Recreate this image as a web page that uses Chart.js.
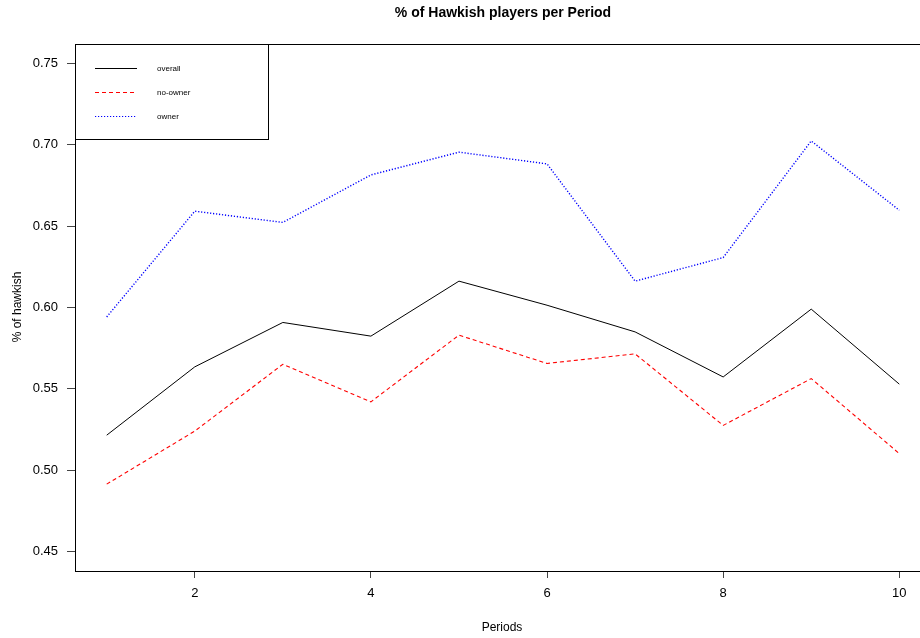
<!DOCTYPE html>
<html>
<head>
<meta charset="utf-8">
<title>% of Hawkish players per Period</title>
<script src="https://cdn.jsdelivr.net/npm/chart.js@4.4.1/dist/chart.umd.min.js"></script>
<style>
  html, body { margin: 0; padding: 0; background: #fff; overflow: hidden; }
  #wrap { width: 932px; height: 638px; }
</style>
</head>
<body>
<div id="wrap"><canvas id="chart" width="932" height="638"></canvas></div>
<script>
// Share of hawkish choices per period, by player group
const periods = [1, 2, 3, 4, 5, 6, 7, 8, 9, 10];
const overall = [0.5215, 0.5635, 0.5908, 0.5824, 0.6162, 0.6014, 0.5850, 0.5573, 0.5990, 0.5529];
const noOwner = [0.4914, 0.5240, 0.5651, 0.5420, 0.5830, 0.5656, 0.5715, 0.5275, 0.5563, 0.5102];
const owner   = [0.5942, 0.6592, 0.6523, 0.6815, 0.6955, 0.6883, 0.6162, 0.6307, 0.7024, 0.6598];

const xTicks = [2, 4, 6, 8, 10];
const yTicks = [0.45, 0.50, 0.55, 0.60, 0.65, 0.70, 0.75];

const seriesNames = ['overall', 'no-owner', 'owner'];
const FONT = "'Liberation Sans', Arial, Helvetica, sans-serif";

const toPoints = vals => periods.map((p, i) => ({ x: p, y: vals[i] }));

// Frame, titles and boxed legend drawn on top of the plot
const decorations = {
  id: 'decorations',
  afterDraw(chart) {
    const { ctx, chartArea: a } = chart;
    ctx.save();
    ctx.strokeStyle = '#000';
    ctx.lineWidth = 1;
    ctx.setLineDash([]);
    ctx.strokeRect(Math.round(a.left) + 0.5, Math.round(a.top) + 0.5,
                   Math.round(a.right - a.left), Math.round(a.bottom - a.top));

    ctx.fillStyle = '#000';
    ctx.textAlign = 'center';
    ctx.textBaseline = 'middle';
    ctx.font = 'bold 14px ' + FONT;
    ctx.fillText('% of Hawkish players per Period', 503, 13);

    ctx.font = '12px ' + FONT;
    ctx.fillText('Periods', 502, 628);

    ctx.save();
    ctx.translate(18, 307);
    ctx.rotate(-Math.PI / 2);
    ctx.fillText('% of hawkish', 0, 0);
    ctx.restore();

    // legend box in the top-left corner of the plot
    const lx = Math.round(a.left) + 0.5, ly = Math.round(a.top) + 0.5;
    ctx.fillStyle = '#fff';
    ctx.fillRect(lx, ly, 193, 95);
    ctx.strokeStyle = '#000';
    ctx.strokeRect(lx, ly, 193, 95);
    ctx.font = '8px ' + FONT;
    ctx.textAlign = 'left';
    chart.data.datasets.forEach((ds, i) => {
      const y = 68.5 + i * 24;
      ctx.strokeStyle = ds.borderColor;
      ctx.lineWidth = 1;
      ctx.setLineDash(ds.borderDash || []);
      ctx.beginPath();
      ctx.moveTo(95, y);
      ctx.lineTo(137, y);
      ctx.stroke();
      ctx.fillStyle = '#000';
      ctx.fillText(ds.label, 157, y);
    });
    ctx.restore();
  }
};

new Chart(document.getElementById('chart'), {
  type: 'line',
  data: {
    datasets: [
      { label: seriesNames[0], data: toPoints(overall), borderColor: '#000000', borderWidth: 1, borderDash: [] },
      { label: seriesNames[1], data: toPoints(noOwner), borderColor: '#ff0000', borderWidth: 1.1, borderDash: [4, 3] },
      { label: seriesNames[2], data: toPoints(owner), borderColor: '#0000ff', borderWidth: 1.4, borderDash: [1.2, 1.8] }
    ]
  },
  options: {
    responsive: false,
    animation: false,
    layout: { padding: { left: 0, top: 44, right: 1, bottom: 0 } },
    elements: { point: { radius: 0 }, line: { tension: 0, fill: false } },
    plugins: { legend: { display: false }, title: { display: false }, tooltip: { enabled: false } },
    scales: {
      x: {
        type: 'linear',
        min: 0.64,
        max: 10.36,
        afterBuildTicks: s => { s.ticks = xTicks.map(v => ({ value: v })); },
        afterFit: s => { s.height = 67; },
        border: { display: false },
        grid: { drawOnChartArea: false, drawTicks: true, tickLength: 7, color: '#444', lineWidth: 1 },
        ticks: { color: '#000', font: { family: FONT, size: 13 }, padding: 8, maxRotation: 0 }
      },
      y: {
        type: 'linear',
        min: 0.438,
        max: 0.762,
        afterBuildTicks: s => { s.ticks = yTicks.map(v => ({ value: v })); },
        afterFit: s => { s.width = 75; },
        border: { display: false },
        grid: { drawOnChartArea: false, drawTicks: true, tickLength: 8, color: '#444', lineWidth: 1 },
        ticks: { color: '#000', font: { family: FONT, size: 13 }, padding: 9,
                 callback: v => v.toFixed(2) }
      }
    }
  },
  plugins: [decorations]
});
</script>
</body>
</html>
